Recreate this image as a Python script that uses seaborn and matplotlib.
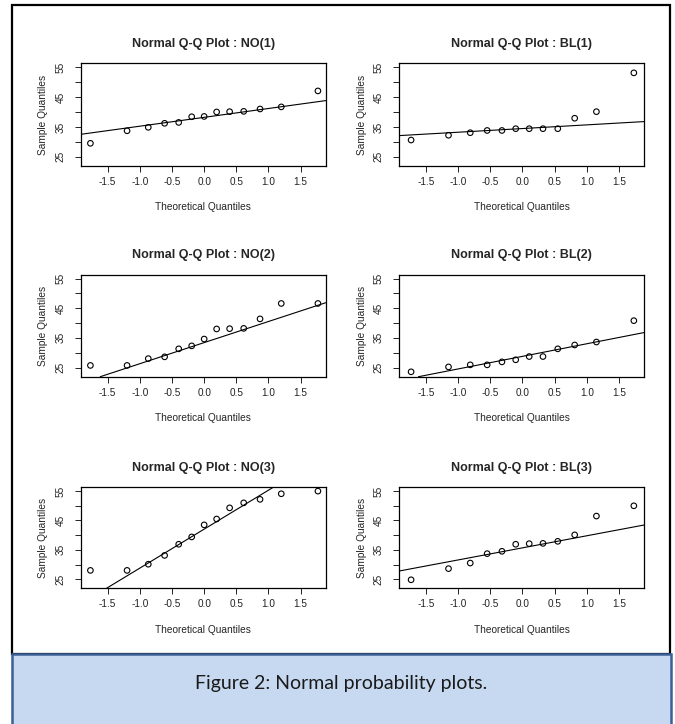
import seaborn as sns
import matplotlib.pyplot as plt
import matplotlib.patches as patches
import numpy as np
import pandas as pd

# theoretical normal quantiles (13 points for NO, 12 for BL)
theo_13 = [-1.769, -1.199, -0.869, -0.615, -0.396, -0.194, 0.0,
           0.194, 0.396, 0.615, 0.869, 1.199, 1.769]
theo_12 = [-1.732, -1.150, -0.812, -0.549, -0.319, -0.105,
           0.105, 0.319, 0.549, 0.812, 1.150, 1.732]

# sample quantiles
no1 = [29.5, 33.7, 34.85, 36.2, 36.5, 38.4, 38.5, 40.0, 40.1, 40.2, 41.0, 41.7, 47.05]
no2 = [25.7, 25.7, 28.0, 28.6, 31.3, 32.3, 34.6, 38.0, 38.1, 38.2, 41.4, 46.6, 46.6]
no3 = [28.0, 28.0, 30.1, 33.1, 36.9, 39.4, 43.5, 45.5, 49.3, 51.0, 52.2, 54.1, 55.0]
bl1 = [30.6, 32.2, 33.05, 33.8, 33.8, 34.4, 34.4, 34.4, 34.4, 37.9, 40.1, 53.1]
bl2 = [23.55, 25.2, 25.9, 25.9, 26.9, 27.6, 28.7, 28.7, 31.3, 32.6, 33.6, 40.8]
bl3 = [24.8, 28.6, 30.5, 33.7, 34.5, 36.9, 37.1, 37.2, 37.9, 40.1, 46.5, 50.0]

titles = ['NO(1)', 'BL(1)', 'NO(2)', 'BL(2)', 'NO(3)', 'BL(3)']
samples = [no1, bl1, no2, bl2, no3, bl3]

x_ticks = [-1.5, -1.0, -0.5, 0.0, 0.5, 1.0, 1.5]
y_ticks = [25, 30, 35, 40, 45, 50, 55]
y_labels = ['25', '', '35', '', '45', '', '55']

sns.set_style('white')
plt.rcParams['font.family'] = ['Liberation Sans', 'DejaVu Sans']

W, H = 675, 724
fig = plt.figure(figsize=(W / 100, H / 100), dpi=100)

# outer frame and caption box
fig.patches.append(patches.Rectangle((12 / W, 1 - 654 / H), 658 / W, 649 / H,
                                     transform=fig.transFigure, fill=False,
                                     edgecolor='black', linewidth=1.6))
fig.patches.append(patches.Rectangle((12 / W, -0.01), 659 / W, (70 / H) + 0.01,
                                     transform=fig.transFigure, facecolor='#c6d9f0',
                                     edgecolor='#3b6096', linewidth=1.8))
fig.text(341 / W, 1 - 683 / H, 'Figure 2: Normal probability plots.',
         ha='center', va='center', fontsize=14, color='#1a1a1a',
         family=['Lato', 'DejaVu Sans'])

col_left = [80.7, 399]
row_tops = [(63.3, 166), (274.7, 376.7), (487.3, 588.3)]

def qqline(ax, theo, vals):
    q1, q3 = np.percentile(vals, [25, 75])
    slope = (q3 - q1) / (2 * 0.6745)
    intercept = q1 + 0.6745 * slope
    ax.axline((0, intercept), slope=slope, color='black', linewidth=0.8)

for i, (name, vals) in enumerate(zip(titles, samples)):
    r, c = divmod(i, 2)
    top, bot = row_tops[r]
    ax = fig.add_axes([col_left[c] / W, 1 - bot / H, 245 / W, (bot - top) / H])
    theo = theo_13 if name.startswith('NO') else theo_12
    df = pd.DataFrame({'theo': theo, 'sample': vals})
    sns.scatterplot(data=df, x='theo', y='sample', ax=ax, marker='o', s=16,
                    facecolor='none', edgecolor='black', linewidth=0.8)
    qqline(ax, theo, vals)
    ax.set_xlim(-1.92, 1.89)
    ax.set_ylim(21.9, 56.3)
    ax.set_xticks(x_ticks)
    ax.set_xticklabels([f'{t:.1f}' for t in x_ticks])
    ax.set_yticks(y_ticks)
    ax.set_yticklabels(y_labels, rotation=90, va='center')
    ax.tick_params(axis='both', direction='out', length=4, width=0.7,
                   labelsize=7.2, colors='#222222', left=True, bottom=True)
    ax.tick_params(axis='x', pad=4)
    ax.tick_params(axis='y', pad=7)
    for sp in ax.spines.values():
        sp.set_linewidth(0.9)
        sp.set_color('black')
    ax.set_title(f'Normal Q-Q Plot : {name}', fontsize=9, fontweight='bold', pad=12)
    ax.set_xlabel('Theoretical Quantiles', fontsize=7.3, labelpad=11)
    ax.set_ylabel('Sample Quantiles', fontsize=7.3, labelpad=5)

fig.savefig('out.png', dpi=100)
